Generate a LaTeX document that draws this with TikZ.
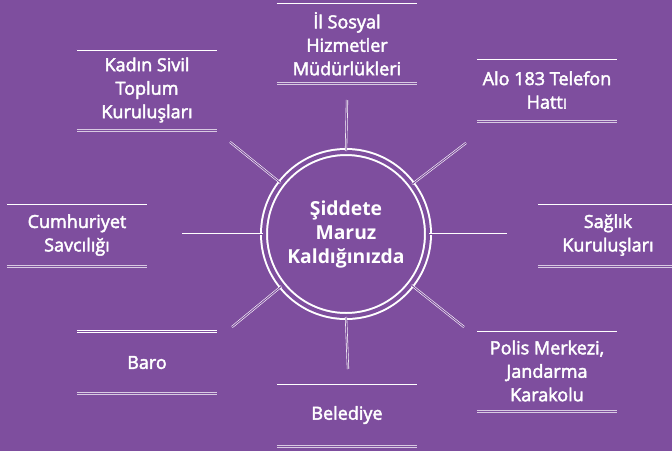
\documentclass[tikz,border=0pt]{standalone}
\usepackage{fontspec}
\setmainfont{Open Sans}
\newfontfamily\orta{Open Sans}[FakeBold=2.5]
\usepackage{tikz}
\definecolor{mor}{RGB}{126,78,158}
\colorlet{lila}{white!70!mor}
\tikzset{
  kutu/.style={rectangle,inner sep=0pt,minimum width=105pt,align=center,text=white,
    font=\orta\fontsize{13.5}{17.6}\selectfont},
  ustcizgi/.style={draw=white,double=mor,line width=0.5pt,double distance=0.7pt},
  altcizgi/.style={draw=lila,double=mor,line width=0.9pt,double distance=0.5pt},
  isin/.style={draw=white,double=mor,line width=0.45pt,double distance=0.75pt}
}
\begin{document}
\begin{tikzpicture}[x=0.75pt,y=-0.75pt]
\fill[mor] (0,0) rectangle (672,451);
\useasboundingbox (0,0) rectangle (672,451);
\path (346,234) node(ctr)[circle,minimum size=123pt,inner sep=0pt,draw=white,double=mor,line width=1.5pt,double distance=3pt,text=white,align=center,font=\bfseries\fontsize{14.5}{18}\selectfont]{Şiddete\\ Maruz\\ Kaldığınızda}
(347,43.75) node(hiz)[kutu,minimum height=59pt]{İl Sosyal\\ Hizmetler\\ Müdürlükleri}
(547,90) node(alo)[kutu,minimum height=46.5pt]{Alo 183 Telefon\\ Hattı}
(147,90) node(kad)[kutu,minimum height=60pt]{Kadın Sivil\\ Toplum\\ Kuruluşları}
(77,235) node(cum)[kutu,minimum height=46.5pt]{Cumhuriyet\\ Savcılığı}
(608,235) node(sag)[kutu,minimum height=46.5pt]{Sağlık\\ Kuruluşları}
(147,362.5) node(bar)[kutu,minimum height=46pt]{Baro}
(347,415) node(bel)[kutu,minimum height=46.5pt]{Belediye}
(547,371) node(pol)[kutu,minimum height=60pt]{Polis Merkezi,\\ Jandarma\\ Karakolu};
% kutularin cizgileri
\foreach \k in {hiz,alo,kad,cum,sag,bar,bel,pol}{
  \draw[ustcizgi](\k.north west)--(\k.north east);
  \draw[altcizgi](\k.south west)--(\k.south east);
}
% isinlarin uclari
\coordinate (u1) at (347,100);
\coordinate (u2) at (466,143);
\coordinate (u3) at (507,234);
\coordinate (u4) at (464,327);
\coordinate (u5) at (348,369);
\coordinate (u6) at (232,327);
\coordinate (u7) at (182,234);
\coordinate (u8) at (230,142);
\draw[isin](ctr.north)--(u1);
\draw[isin](ctr.37)--(u2);
\draw[isin](ctr.east)--(u3);
\draw[isin](ctr.-38)--(u4);
\draw[isin](ctr.south)--(u5);
\draw[isin](ctr.-141)--(u6);
\draw[isin](ctr.west)--(u7);
\draw[isin](ctr.142)--(u8);
\end{tikzpicture}
\end{document}
